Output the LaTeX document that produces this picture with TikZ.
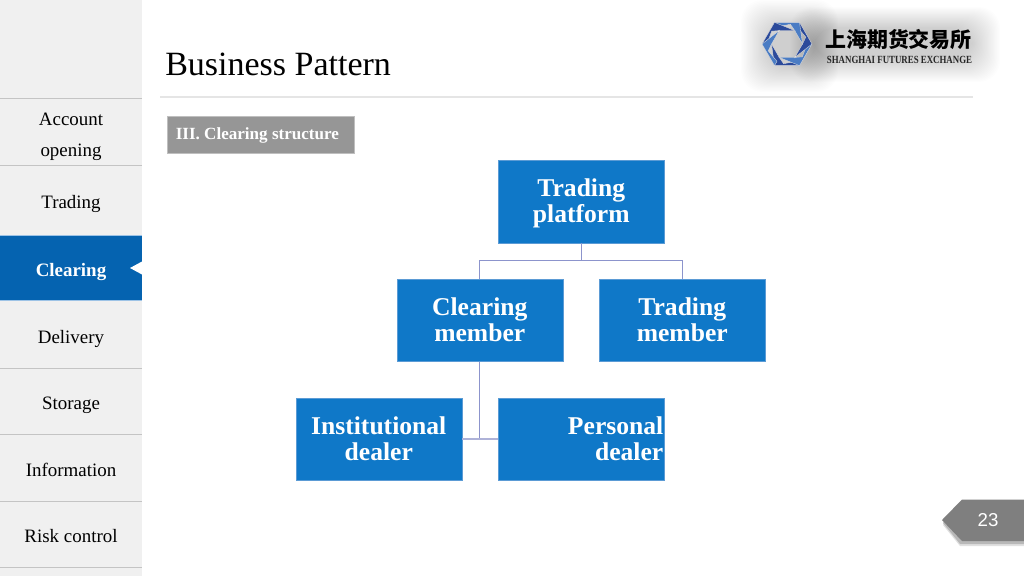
\documentclass[tikz,border=0pt]{standalone}
\usepackage{fontspec}
\setmainfont{Liberation Serif}
\newfontfamily\cjkf{Noto Sans CJK SC}
\newfontfamily\arialf{Liberation Sans}
\newcommand\lowr[1]{\raisebox{0pt}[15.3pt][2.8pt]{#1}}
\definecolor{sidegray}{HTML}{F0F0F0}
\definecolor{sideline}{HTML}{C4C4C4}
\definecolor{boxblue}{HTML}{0F78C8}
\definecolor{boxedge}{HTML}{5B9BD5}
\definecolor{activeblue}{HTML}{0563B0}
\definecolor{linkblue}{HTML}{8C94CC}
\definecolor{linkpale}{HTML}{AEB2D8}
\definecolor{tabgray}{HTML}{7F7F7F}
\definecolor{headgray}{HTML}{969696}
\definecolor{logolight}{HTML}{4A7CC4}
\definecolor{logodark}{HTML}{2B4A9B}
\tikzset{
  x=0.75pt,y=-0.75pt,
  orgbox/.style={rectangle,fill=boxblue,draw=boxedge,line width=0.4pt,minimum width=124.5pt,minimum height=62pt,inner sep=0pt,text=white,font=\fontsize{19.2}{19.5}\selectfont\bfseries,align=center,anchor=north west},
  sidelabel/.style={font=\fontsize{14.2}{23}\selectfont,text=black,align=center,inner sep=0pt},
  sidebase/.style={sidelabel,anchor=base},
  sideline/.style={draw=sideline,line width=0.6pt},
  link/.style={draw=linkblue,line width=1pt},
  glow/.style={fill=black,fill opacity=0.009,draw=none,rounded corners=16pt}
}
\begin{document}
\begin{tikzpicture}
\useasboundingbox (0,0) rectangle (1024,576);
\fill[white] (0,0) rectangle (1024,576);
% sidebar
\fill[sidegray] (0,0) rectangle (142,576);
\foreach \y in {98,165,368,434,501,567}{\draw[sideline] (0,\y) -- (142,\y);}
\fill[activeblue] (0,235) rectangle (142,300.5);
\draw[boxedge!60,line width=0.4pt] (0,235) -- (142,235) (0,300.5) -- (142,300.5);
\fill[white] (142,261.5) -- (130,268) -- (142,274.5) -- cycle;
\node[sidelabel] (acc) at (71,136.5) {Account\\opening};
\node[sidebase] (trd) at (71,208) {Trading};
\node[sidebase,text=white,font=\fontsize{14.2}{23}\selectfont\bfseries] (clr) at (71,276.5) {Clearing};
\node[sidebase] (del) at (71,343) {Delivery};
\node[sidebase] (sto) at (71,409.5) {Storage};
\node[sidebase] (inf) at (71,476.5) {Information};
\node[sidebase] (rsk) at (71,542.7) {Risk control};
% title
\node[anchor=base west,inner sep=0pt,font=\fontsize{25.5}{25.5}\selectfont] (title) at (165,75) {Business Pattern};
\draw[draw=black!10,line width=0.8pt] (160,97) -- (973,97);
% logo glow
\foreach \i in {0,...,23}{
  \fill[glow] ({741+\i*1.2},{0+\i*1.2}) rectangle ({838-\i},{92-\i*1.1});
  \fill[glow] ({790+\i},{7+\i*0.9}) rectangle ({1000-\i*1.2},{82-\i*1.0});
}
% logo mark
\begin{scope}[shift={(787,44)},line join=miter]
\foreach \a/\c in {0/logodark,60/logolight,120/logodark,180/logolight,240/logodark,300/logolight}{
  \begin{scope}[rotate=\a]
  \fill[\c,draw=white!75!gray,line width=0.25pt] (60:25) -- (120:25) -- (180:15.5) -- (120:15.5) -- (100:20) -- (60:20) -- cycle;
  \end{scope}
}
\end{scope}
\node[inner sep=0pt,font=\cjkf\fontsize{15.7}{16}\selectfont\bfseries,text=black] (logocn) at (898.5,39) {上海期货交易所};
\node[inner sep=0pt,font=\fontsize{8.2}{9}\selectfont\bfseries,text=black!85] (logoen) at (899.5,59.5) {\addfontfeature{FakeStretch=0.81}SHANGHAI FUTURES EXCHANGE};
% section heading
\node[anchor=north west,rectangle,fill=headgray,draw=black!25,line width=0.3pt,minimum width=140.5pt,minimum height=28pt,inner sep=0pt] (head) at (167,116) {};
\node[anchor=base west,inner sep=0pt,text=white,font=\fontsize{12.8}{12.8}\selectfont\bfseries] (headt) at (175.5,139) {III. Clearing structure};
% org chart
\node[orgbox] (tp) at (498,160) {\lowr{Trading}\\\lowr{platform}};
\node[orgbox] (cm) at (396.5,278.5) {\lowr{Clearing}\\\lowr{member}};
\node[orgbox] (tm) at (599,278.5) {\lowr{Trading}\\\lowr{member}};
\node[orgbox] (id) at (295.5,397.5) {\lowr{Institutional}\\\lowr{dealer}};
\node[orgbox,align=right] (pd) at (498,397.5) {\lowr{\makebox[123pt][r]{Personal}}\\\lowr{\makebox[123pt][r]{dealer}}};
\coordinate (mid) at (cm.south |- id.east);
\draw[link] (tp.south) -- ++(0,17.5) -| (cm.north);
\draw[link] (tp.south) -- ++(0,17.5) -| (tm.north);
\draw[link] (cm.south) -- (mid);
\draw[link,draw=linkpale] (id.east) -- (pd.west);
% page tab
\fill[black!12] (1024,506) -- (960,506) -- (943,525) -- (960,546) -- (1024,546) -- cycle;
\fill[black!28] (1024,504) -- (960,504) -- (943,523) -- (960,544) -- (1024,544) -- cycle;
\fill[tabgray] (1024,499.5) -- (962,499.5) -- (942,520) -- (962,541) -- (1024,541) -- cycle;
\node[inner sep=0pt,text=white,font=\arialf\fontsize{14}{14}\selectfont] (pg) at (988,520) {23};
\end{tikzpicture}
\end{document}
